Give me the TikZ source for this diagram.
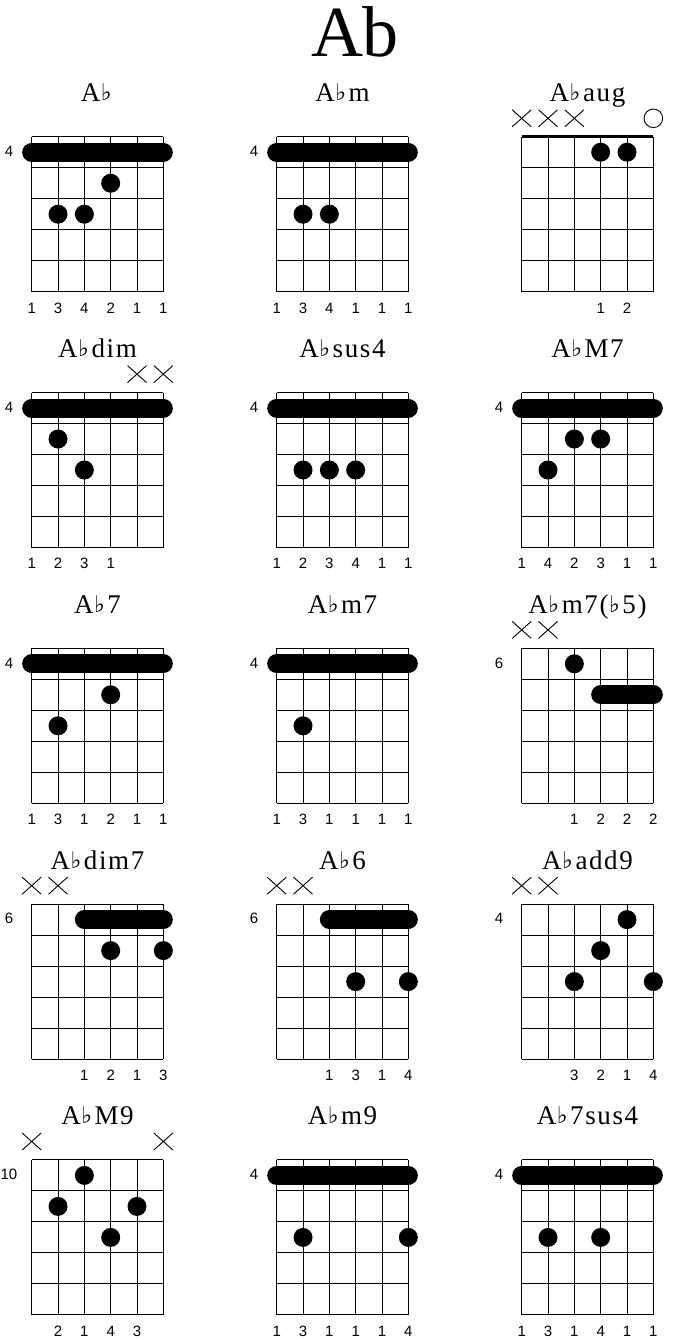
\documentclass[tikz,border=0pt]{standalone}
\usepackage{fontspec}
\setmainfont{Liberation Serif}
\newfontfamily\titlefont[LetterSpace=6]{Liberation Serif}
\newfontfamily\numfont{Liberation Sans}
\newfontfamily\flatfont{DejaVu Sans}
\tikzset{
  gridline/.style={line width=1pt},
  barre/.style={line width=19pt, line cap=round},
  xm/.style={line width=0.9pt},
  om/.style={line width=0.9pt},
  nutline/.style={line width=2.5pt},
  fing/.style={font=\numfont\fontsize{15}{15}\selectfont, anchor=base, inner sep=0pt},
  fretlbl/.style={font=\numfont\fontsize{15}{15}\selectfont, anchor=base, inner sep=0pt},
  ctitle/.style={font=\titlefont\fontsize{27}{27}\selectfont, anchor=base, inner sep=0pt},
  bigtitle/.style={font=\fontsize{72}{72}\selectfont, anchor=base, inner sep=0pt},
}
\newcommand\fl{\kern0.5pt\raisebox{1pt}{\flatfont\bfseries\fontsize{23}{23}\selectfont ♭}\kern2.5pt}
\newcommand\fretgrid{%
  \foreach \i in {1,...,6}{\draw[gridline] (5.36+26.33*\i,136.7) -- (5.36+26.33*\i,291.7);}
  \foreach \j in {0,...,5}{\draw[gridline] (31.69,136.7+31*\j) -- (163.34,136.7+31*\j);}}
\newcommand\dotat[2]{\fill (5.36+26.33*#1,121.2+31*#2) circle[radius=9.5];}
\newcommand\barre[3]{\draw[barre] (5.36+26.33*#1,121.2+31*#3) -- (5.36+26.33*#2,121.2+31*#3);}
\newcommand\xmark[1]{\draw[xm] (5.36+26.33*#1-9.5,109.8) -- (5.36+26.33*#1+9.5,126.8)
   (5.36+26.33*#1-9.5,126.8) -- (5.36+26.33*#1+9.5,109.8);}
\newcommand\omark[1]{\draw[om] (5.36+26.33*#1,118.3) circle[radius=9.3];}
\newcommand\nut{\draw[nutline] (31.69,136.7) -- (163.34,136.7);}
\newcommand\fretnum[1]{\node[fretlbl] at (9,156.5) {#1};}
\newcommand\fingerrow[1]{\foreach \s/\n in {#1}{\node[fing] at (5.36+26.33*\s,313) {\n};}}
\newcommand\chordbox[4]{%
  \begin{scope}[shift={(#1,#2)}]
    \fretgrid
    \node[ctitle] at (97.5,101.7) {#3};
    #4
  \end{scope}}
\begin{document}
\begin{tikzpicture}[x=1pt,y=-1pt]
\fill[white] (0,0) rectangle (673,1340);
\useasboundingbox (0,0) rectangle (673,1340);
\node[bigtitle] (title) at (355,56.7) {Ab};
% Row 1
\chordbox{0}{0}{A\fl}{\barre{1}{6}{1}\dotat{4}{2}\dotat{2}{3}\dotat{3}{3}\fretnum{4}
  \fingerrow{1/1,2/3,3/4,4/2,5/1,6/1}}
\chordbox{245}{0}{A\fl m}{\barre{1}{6}{1}\dotat{2}{3}\dotat{3}{3}\fretnum{4}
  \fingerrow{1/1,2/3,3/4,4/1,5/1,6/1}}
\chordbox{490}{0}{A\fl aug}{\nut\xmark{1}\xmark{2}\xmark{3}\omark{6}\dotat{4}{1}\dotat{5}{1}
  \fingerrow{4/1,5/2}}
% Row 2
\chordbox{0}{255.8}{A\fl dim}{\barre{1}{6}{1}\xmark{5}\xmark{6}\dotat{2}{2}\dotat{3}{3}\fretnum{4}
  \fingerrow{1/1,2/2,3/3,4/1}}
\chordbox{245}{255.8}{A\fl sus4}{\barre{1}{6}{1}\dotat{2}{3}\dotat{3}{3}\dotat{4}{3}\fretnum{4}
  \fingerrow{1/1,2/2,3/3,4/4,5/1,6/1}}
\chordbox{490}{255.8}{A\fl M7}{\barre{1}{6}{1}\dotat{2}{3}\dotat{3}{2}\dotat{4}{2}\fretnum{4}
  \fingerrow{1/1,2/4,3/2,4/3,5/1,6/1}}
% Row 3
\chordbox{0}{511.6}{A\fl 7}{\barre{1}{6}{1}\dotat{4}{2}\dotat{2}{3}\fretnum{4}
  \fingerrow{1/1,2/3,3/1,4/2,5/1,6/1}}
\chordbox{245}{511.6}{A\fl m7}{\barre{1}{6}{1}\dotat{2}{3}\fretnum{4}
  \fingerrow{1/1,2/3,3/1,4/1,5/1,6/1}}
\chordbox{490}{511.6}{A\fl m7(\fl 5)}{\xmark{1}\xmark{2}\dotat{3}{1}\barre{4}{6}{2}\fretnum{6}
  \fingerrow{3/1,4/2,5/2,6/2}}
% Row 4
\chordbox{0}{767.4}{A\fl dim7}{\xmark{1}\xmark{2}\barre{3}{6}{1}\dotat{4}{2}\dotat{6}{2}\fretnum{6}
  \fingerrow{3/1,4/2,5/1,6/3}}
\chordbox{245}{767.4}{A\fl 6}{\xmark{1}\xmark{2}\barre{3}{6}{1}\dotat{4}{3}\dotat{6}{3}\fretnum{6}
  \fingerrow{3/1,4/3,5/1,6/4}}
\chordbox{490}{767.4}{A\fl add9}{\xmark{1}\xmark{2}\dotat{5}{1}\dotat{4}{2}\dotat{3}{3}\dotat{6}{3}\fretnum{4}
  \fingerrow{3/3,4/2,5/1,6/4}}
% Row 5
\chordbox{0}{1023.2}{A\fl M9}{\xmark{1}\xmark{6}\dotat{3}{1}\dotat{2}{2}\dotat{5}{2}\dotat{4}{3}\fretnum{10}
  \fingerrow{2/2,3/1,4/4,5/3}}
\chordbox{245}{1023.2}{A\fl m9}{\barre{1}{6}{1}\dotat{2}{3}\dotat{6}{3}\fretnum{4}
  \fingerrow{1/1,2/3,3/1,4/1,5/1,6/4}}
\chordbox{490}{1023.2}{A\fl 7sus4}{\barre{1}{6}{1}\dotat{2}{3}\dotat{4}{3}\fretnum{4}
  \fingerrow{1/1,2/3,3/1,4/4,5/1,6/1}}
\end{tikzpicture}
\end{document}
